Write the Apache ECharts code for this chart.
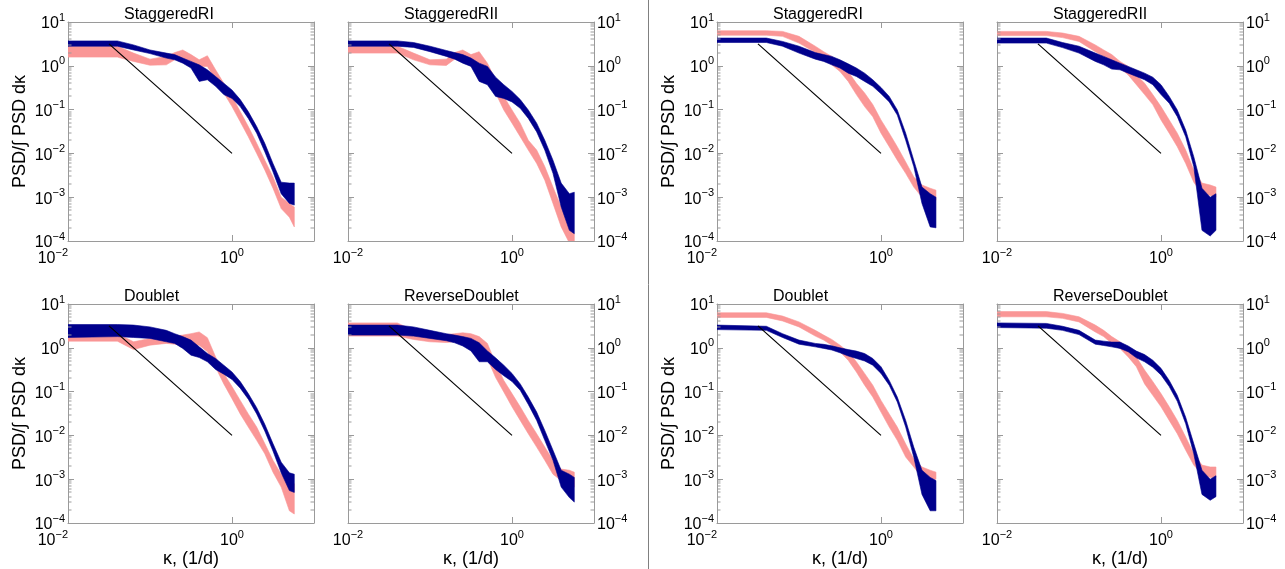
<!DOCTYPE html>
<html><head><meta charset="utf-8">
<script src="https://cdn.jsdelivr.net/npm/echarts@6/dist/echarts.min.js"></script>
<style>html,body{margin:0;padding:0;background:#fff}#c{width:1285px;height:569px}</style>
</head><body><div id="c"></div>
<script>
// ---------------- data ----------------
const kLeft  = [0.01, 0.04, 0.063, 0.1, 0.158, 0.2, 0.251, 0.316, 0.398, 0.501, 0.631, 0.794, 1.0, 1.26, 1.58, 2.0, 2.51, 3.16, 3.98, 5.01, 5.75];
const kRight = [0.01, 0.04, 0.063, 0.1, 0.158, 0.2, 0.251, 0.316, 0.398, 0.501, 0.631, 0.794, 1.0, 1.26, 1.58, 2.0, 2.51, 3.16, 3.98, 4.68];

// left block, StaggeredRI
const lSriNavyHi = [3.7, 3.7, 3.0, 2.3, 1.95, 1.8, 1.5, 1.26, 1.05, 0.81, 0.57, 0.40, 0.28, 0.17, 0.09, 0.041, 0.017, 0.0059, 0.0022, 0.0021, 0.0021];
const lSriNavyLo = [2.8, 2.8, 2.3, 1.9, 1.5, 1.37, 1.15, 0.89, 0.44, 0.48, 0.34, 0.22, 0.18, 0.117, 0.063, 0.029, 0.0109, 0.0038, 0.0012, 0.00072, 0.00066];
const lSriPinkHi = [2.8, 2.8, 1.95, 1.42, 1.64, 2.0, 2.3, 1.8, 1.37, 1.7, 0.81, 0.40, 0.20, 0.09, 0.041, 0.017, 0.007, 0.0029, 0.0010, 0.00072, 0.0006];
const lSriPinkLo = [1.58, 1.58, 1.26, 1.03, 1.05, 1.37, 1.5, 1.26, 0.97, 0.97, 0.48, 0.24, 0.117, 0.053, 0.024, 0.01, 0.0042, 0.0016, 0.00055, 0.00035, 0.00021];
// left block, StaggeredRII
const lSriiNavyHi = [3.7, 3.7, 3.4, 2.8, 2.24, 2.0, 1.8, 1.5, 1.15, 0.97, 0.55, 0.37, 0.26, 0.17, 0.098, 0.049, 0.020, 0.007, 0.0021, 0.0012, 0.0013];
const lSriiNavyLo = [2.8, 2.8, 2.63, 2.1, 1.64, 1.42, 1.15, 0.97, 0.44, 0.37, 0.20, 0.18, 0.15, 0.107, 0.063, 0.031, 0.0119, 0.0035, 0.0006, 0.000175, 0.000147];
const lSriiPinkHi = [2.8, 2.8, 1.95, 1.37, 1.42, 2.0, 2.3, 1.8, 2.1, 1.15, 0.48, 0.20, 0.098, 0.049, 0.020, 0.0119, 0.005, 0.0017, 0.0006, 0.00021, 0.000147];
const lSriiPinkLo = [1.95, 1.95, 1.37, 1.05, 1.02, 1.42, 1.58, 1.26, 1.15, 0.62, 0.24, 0.098, 0.049, 0.024, 0.0119, 0.0059, 0.00245, 0.00072, 0.00021, 0.00009, 0.00007];
// left block, Doublet
const lDblNavyHi = [3.4, 3.4, 3.3, 3.0, 2.5, 2.1, 1.8, 1.5, 1.05, 0.74, 0.57, 0.40, 0.28, 0.17, 0.09, 0.043, 0.018, 0.0065, 0.00245, 0.0014, 0.0013];
const lDblNavyLo = [1.72, 1.8, 1.72, 1.64, 1.37, 1.26, 0.97, 0.68, 0.6, 0.48, 0.32, 0.25, 0.19, 0.12, 0.067, 0.031, 0.0126, 0.0044, 0.0014, 0.00055, 0.0005];
const lDblPinkHi = [2.1, 2.1, 1.37, 1.64, 1.8, 1.85, 1.95, 2.1, 2.3, 1.7, 0.62, 0.26, 0.13, 0.063, 0.031, 0.0155, 0.0065, 0.0027, 0.0013, 0.00093, 0.00079];
const lDblPinkLo = [1.42, 1.42, 0.91, 1.15, 1.26, 1.21, 1.15, 1.15, 1.15, 0.81, 0.36, 0.15, 0.069, 0.031, 0.0155, 0.0077, 0.0038, 0.00145, 0.00066, 0.00019, 0.00016];
// left block, ReverseDoublet
const lRdNavyHi = [3.3, 3.3, 3.0, 2.5, 2.1, 1.95, 1.8, 1.64, 1.3, 0.85, 0.59, 0.40, 0.26, 0.15, 0.075, 0.034, 0.013, 0.0046, 0.0016, 0.0013, 0.0011];
const lRdNavyLo = [1.95, 1.95, 1.85, 1.64, 1.45, 1.3, 1.1, 0.85, 0.48, 0.48, 0.32, 0.23, 0.17, 0.107, 0.051, 0.022, 0.0077, 0.0027, 0.00066, 0.00038, 0.0003];
const lRdPinkHi = [3.7, 3.7, 2.5, 2.0, 2.0, 2.1, 2.2, 2.1, 1.8, 1.26, 0.44, 0.18, 0.09, 0.045, 0.022, 0.0109, 0.0054, 0.0027, 0.0017, 0.0016, 0.00145];
const lRdPinkLo = [1.85, 1.85, 1.55, 1.37, 1.32, 1.37, 1.32, 1.26, 1.05, 0.57, 0.21, 0.098, 0.045, 0.022, 0.0109, 0.0054, 0.0027, 0.0013, 0.00093, 0.00079, 0.00066];
// right block, StaggeredRI
const rSriNavyHi = [4.3, 4.3, 3.6, 2.8, 2.0, 1.8, 1.64, 1.37, 1.11, 0.89, 0.68, 0.48, 0.32, 0.20, 0.098, 0.029, 0.007, 0.0017, 0.0012, 0.001];
const rSriNavyLo = [3.4, 3.4, 2.8, 1.95, 1.42, 1.26, 1.05, 0.89, 0.68, 0.57, 0.44, 0.34, 0.23, 0.15, 0.075, 0.02, 0.005, 0.00072, 0.00021, 0.0002];
const rSriPinkHi = [6.3, 6.3, 6.1, 4.7, 2.8, 2.1, 1.64, 1.15, 0.74, 0.40, 0.24, 0.13, 0.058, 0.029, 0.0142, 0.0064, 0.0029, 0.0019, 0.0016, 0.00145];
const rSriPinkLo = [5.0, 5.0, 4.7, 3.3, 2.0, 1.5, 1.05, 0.74, 0.44, 0.22, 0.117, 0.069, 0.029, 0.0142, 0.007, 0.0035, 0.0017, 0.001, 0.00085, 0.00085];
// right block, StaggeredRII
const rSriiNavyHi = [4.3, 4.3, 3.4, 2.8, 1.95, 1.64, 1.37, 1.15, 0.97, 0.81, 0.68, 0.55, 0.37, 0.20, 0.098, 0.034, 0.0084, 0.0016, 0.001, 0.0012];
const rSriiNavyLo = [3.3, 3.3, 2.6, 1.95, 1.26, 1.05, 0.84, 0.81, 0.68, 0.57, 0.48, 0.37, 0.22, 0.14, 0.069, 0.024, 0.005, 0.000175, 0.00013, 0.000175];
const rSriiPinkHi = [6.1, 6.1, 5.6, 4.7, 3.0, 2.3, 1.8, 1.26, 0.97, 0.62, 0.40, 0.22, 0.117, 0.058, 0.029, 0.0119, 0.0042, 0.0021, 0.0019, 0.0017];
const rSriiPinkLo = [4.9, 4.9, 4.4, 3.6, 2.1, 1.64, 1.26, 0.89, 0.62, 0.37, 0.22, 0.13, 0.058, 0.029, 0.0142, 0.0059, 0.0022, 0.0012, 0.0011, 0.001];
// right block, Doublet
const rDblNavyHi = [3.3, 3.1, 2.1, 1.5, 1.26, 1.2, 1.11, 1.0, 0.91, 0.84, 0.74, 0.57, 0.37, 0.18, 0.075, 0.022, 0.0054, 0.0016, 0.0011, 0.00093];
const rDblNavyLo = [2.6, 2.5, 1.72, 1.21, 1.05, 0.97, 0.89, 0.77, 0.65, 0.57, 0.5, 0.40, 0.26, 0.14, 0.058, 0.0155, 0.0032, 0.00045, 0.00019, 0.00019];
const rDblPinkHi = [6.3, 6.3, 5.3, 3.9, 2.5, 1.95, 1.55, 1.15, 0.81, 0.48, 0.26, 0.14, 0.063, 0.031, 0.0155, 0.0064, 0.0029, 0.0019, 0.0016, 0.00145];
const rDblPinkLo = [4.95, 4.95, 4.1, 3.0, 1.85, 1.5, 1.15, 0.81, 0.52, 0.28, 0.14, 0.075, 0.034, 0.0155, 0.0077, 0.0032, 0.0019, 0.0011, 0.001, 0.001];
// right block, ReverseDoublet
const rRdNavyHi = [3.7, 3.6, 3.1, 2.5, 1.5, 1.42, 1.35, 1.35, 1.1, 0.84, 0.7, 0.52, 0.34, 0.18, 0.082, 0.026, 0.0065, 0.0016, 0.001, 0.0012];
const rRdNavyLo = [2.9, 2.8, 2.5, 2.0, 1.21, 1.13, 1.05, 0.97, 0.81, 0.59, 0.48, 0.36, 0.24, 0.13, 0.06, 0.0185, 0.0038, 0.00045, 0.00033, 0.0004];
const rRdPinkHi = [6.7, 6.7, 6.1, 5.1, 3.3, 2.5, 1.8, 1.37, 0.97, 0.62, 0.31, 0.17, 0.09, 0.045, 0.022, 0.0092, 0.0038, 0.0021, 0.0019, 0.0019];
const rRdPinkLo = [5.1, 5.1, 4.7, 3.9, 2.3, 1.8, 1.26, 0.97, 0.62, 0.37, 0.15, 0.082, 0.045, 0.022, 0.0109, 0.0046, 0.0021, 0.0013, 0.0011, 0.0011];

// -5/3 reference line
const refK = [0.0316, 1.0];
const refV = [3.16, 0.01];

// axis ticks
const xTicks = [0.01, 1];
const yTicks = [1e-4, 1e-3, 1e-2, 1e-1, 1, 10];
const minorMantissas = [2, 3, 4, 5, 6, 7, 8, 9];
const minorDecades = [1e-4, 1e-3, 1e-2, 1e-1, 1];

const titles = ['StaggeredRI', 'StaggeredRII', 'StaggeredRI', 'StaggeredRII', 'Doublet', 'ReverseDoublet', 'Doublet', 'ReverseDoublet'];
const yName = 'PSD/\u222B PSD d\u03BA';
const xName = '\u03BA, (1/d)';

// ---------------- layout / styles ----------------
const FONT = '"Liberation Sans", Arial, Helvetica, sans-serif';
const GREY = '#9a9a9a';
const PINK = '#fa9696';
const NAVY = '#00008c';
const colLeft = [68, 348, 717, 997];
const rowTop = [22, 304];
const W = 246, H = 219;

const panels = [
  {k: kLeft,  nh: lSriNavyHi,  nl: lSriNavyLo,  ph: lSriPinkHi,  pl: lSriPinkLo,  col: 0, row: 0},
  {k: kLeft,  nh: lSriiNavyHi, nl: lSriiNavyLo, ph: lSriiPinkHi, pl: lSriiPinkLo, col: 1, row: 0},
  {k: kRight, nh: rSriNavyHi,  nl: rSriNavyLo,  ph: rSriPinkHi,  pl: rSriPinkLo,  col: 2, row: 0},
  {k: kRight, nh: rSriiNavyHi, nl: rSriiNavyLo, ph: rSriiPinkHi, pl: rSriiPinkLo, col: 3, row: 0},
  {k: kLeft,  nh: lDblNavyHi,  nl: lDblNavyLo,  ph: lDblPinkHi,  pl: lDblPinkLo,  col: 0, row: 1},
  {k: kLeft,  nh: lRdNavyHi,   nl: lRdNavyLo,   ph: lRdPinkHi,   pl: lRdPinkLo,   col: 1, row: 1},
  {k: kRight, nh: rDblNavyHi,  nl: rDblNavyLo,  ph: rDblPinkHi,  pl: rDblPinkLo,  col: 2, row: 1},
  {k: kRight, nh: rRdNavyHi,   nl: rRdNavyLo,   ph: rRdPinkHi,   pl: rRdPinkLo,   col: 3, row: 1}
];

const yMinor = [];
minorDecades.forEach(d => minorMantissas.forEach(m => yMinor.push(+(m * d).toPrecision(3))));

function supFmt(v) {
  const e = Math.round(Math.log10(v));
  return '{b|10}{s|' + (e < 0 ? '\u2212' + (-e) : String(e)) + '}';
}
const richSup = {
  b: {fontSize: 16, lineHeight: 20, verticalAlign: 'bottom', fontFamily: FONT, color: '#000'},
  s: {fontSize: 11, lineHeight: 11, verticalAlign: 'top', fontFamily: FONT, color: '#000'}
};

function band(k, lo, hi, color, idx, z) {
  const rows = k.map((x, j) => [x, lo[j], hi[j]]);
  return {
    type: 'custom', xAxisIndex: 2 * idx, yAxisIndex: 2 * idx, z: z, clip: true, silent: true,
    data: rows, encode: {x: 0, y: [1, 2]},
    renderItem: function (params, api) {
      if (params.dataIndex !== 0) return null;
      const top = rows.map(r => api.coord([r[0], r[2]]));
      const bot = rows.map(r => api.coord([r[0], r[1]])).reverse();
      return {type: 'polygon', shape: {points: top.concat(bot)}, style: {fill: color, stroke: color, lineWidth: 0.6}};
    }
  };
}

function minorTicks(idx) {
  return {
    type: 'custom', xAxisIndex: 2 * idx, yAxisIndex: 2 * idx, z: 7, silent: true,
    data: [[0.01, 1]], encode: {x: 0, y: 1},
    renderItem: function (params, api) {
      const children = [];
      yMinor.forEach(v => {
        const a = api.coord([0.01, v]), b = api.coord([10, v]);
        const y = Math.round(a[1]);
        children.push({type: 'rect', shape: {x: a[0], y: y - 0.5, width: 3.5, height: 1}, style: {fill: GREY}});
        children.push({type: 'rect', shape: {x: b[0] - 3.5, y: y - 0.5, width: 3.5, height: 1}, style: {fill: GREY}});
      });
      return {type: 'group', children: children};
    }
  };
}

const grid = [], xAxis = [], yAxis = [], series = [], title = [];
panels.forEach((p, i) => {
  const left = colLeft[p.col], top = rowTop[p.row];
  const labelLeft = (p.col % 2 === 0);
  grid.push({left: left, top: top, width: W, height: H, containLabel: false, outerBoundsMode: 'none'});
  title.push({text: titles[i], left: left + 56, top: top - 15, padding: 0,
    textStyle: {fontFamily: FONT, fontSize: 16, fontWeight: 'normal', color: '#000'}});

  const axLine = {show: true, onZero: false, lineStyle: {color: GREY, width: 1}};
  const axTick = {show: true, inside: true, length: 6, lineStyle: {color: GREY, width: 1}};
  xAxis.push({
    type: 'log', logBase: 10, gridIndex: i, position: 'bottom', min: 0.01, max: 10, interval: 2,
    axisLine: axLine, axisTick: axTick, splitLine: {show: false}, minorTick: {show: false},
    axisLabel: {show: true, margin: 6, showMaxLabel: false, alignMinLabel: labelLeft ? 'right' : 'center',
      formatter: supFmt, rich: richSup},
    name: p.row === 1 ? xName : '', nameLocation: 'middle', nameGap: 18,
    nameTextStyle: {fontFamily: FONT, fontSize: 18, color: '#000'}
  });
  xAxis.push({
    type: 'log', logBase: 10, gridIndex: i, position: 'top', min: 0.01, max: 10, interval: 2,
    axisLine: axLine, axisTick: axTick, splitLine: {show: false}, axisLabel: {show: false}
  });
  yAxis.push({
    type: 'log', logBase: 10, gridIndex: i, position: 'left', min: 1e-4, max: 10, interval: 1,
    axisLine: axLine, axisTick: axTick, splitLine: {show: false},
    axisLabel: {show: labelLeft, margin: 3, formatter: supFmt, rich: richSup},
    name: labelLeft ? yName : '', nameLocation: 'middle', nameGap: 39,
    nameTextStyle: {fontFamily: FONT, fontSize: 18, color: '#000'}
  });
  yAxis.push({
    type: 'log', logBase: 10, gridIndex: i, position: 'right', min: 1e-4, max: 10, interval: 1,
    axisLine: axLine, axisTick: axTick, splitLine: {show: false},
    axisLabel: {show: !labelLeft, margin: 3, formatter: supFmt, rich: richSup}
  });

  series.push(band(p.k, p.pl, p.ph, PINK, i, 2));
  series.push(band(p.k, p.nl, p.nh, NAVY, i, 3));
  series.push({
    type: 'line', xAxisIndex: 2 * i, yAxisIndex: 2 * i, z: 6, silent: true,
    data: refK.map((x, j) => [x, refV[j]]), showSymbol: false, symbol: 'none',
    lineStyle: {color: '#000', width: 1.2}
  });
  series.push(minorTicks(i));
});

const chart = echarts.init(document.getElementById('c'), null, {renderer: 'canvas'});
chart.setOption({
  animation: false,
  backgroundColor: '#fff',
  title: title,
  grid: grid,
  xAxis: xAxis,
  yAxis: yAxis,
  series: series,
  graphic: [{type: 'line', shape: {x1: 648.5, y1: 0, x2: 648.5, y2: 569}, style: {stroke: '#808080', lineWidth: 1}, z: 100}]
});
</script>
</body></html>
